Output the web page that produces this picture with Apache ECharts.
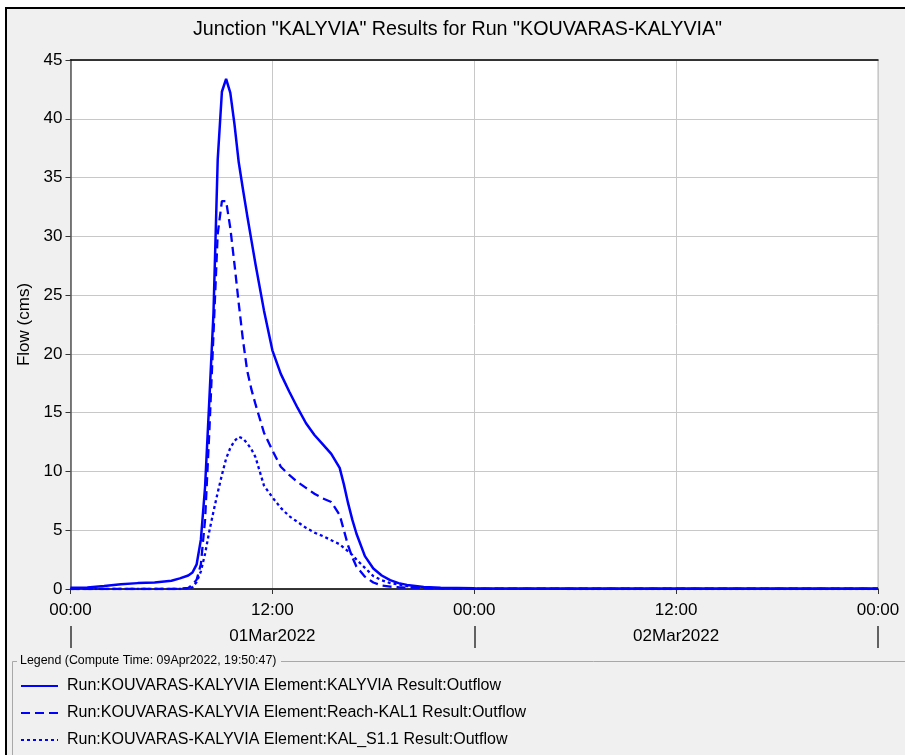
<!DOCTYPE html>
<html>
<head>
<meta charset="utf-8">
<script src="https://cdn.jsdelivr.net/npm/echarts@6/dist/echarts.min.js"></script>
<style>
  html, body { margin: 0; padding: 0; background: #fff; }
  #chart { width: 905px; height: 755px; }
</style>
</head>
<body>
<div id="chart"></div>
<script>
// Hydrograph at junction KALYVIA, hours from 01Mar2022 00:00
const hours = [0, 1, 2, 3, 4, 5, 6, 6.5, 7, 7.25, 7.5, 7.75, 8, 8.25, 8.5, 8.75, 9, 9.25, 9.5, 9.75,
  10, 10.25, 10.5, 10.75, 11, 11.5, 12, 12.5, 13, 13.5, 14, 14.5, 15, 15.5, 16, 16.25, 16.5, 16.75,
  17, 17.5, 18, 18.5, 19, 19.5, 20, 21, 22, 24, 30, 36, 42, 48];

const outflowKalyvia = [0.1, 0.12, 0.25, 0.4, 0.5, 0.55, 0.7, 0.9, 1.15, 1.4, 2.1, 4.2, 8.7, 16.0, 23.5, 36.5, 42.3, 43.4, 42.2, 39.5,
  36.3, 34.0, 31.8, 29.7, 27.6, 23.7, 20.3, 18.3, 16.8, 15.4, 14.1, 13.1, 12.3, 11.5, 10.3, 8.9, 7.3, 5.9,
  4.7, 2.8, 1.75, 1.15, 0.75, 0.5, 0.35, 0.18, 0.1, 0.06, 0.05, 0.05, 0.05, 0.05];

const outflowReachKal1 = [0, 0, 0, 0, 0, 0, 0, 0.02, 0.1, 0.35, 0.8, 2.1, 5.9, 13.3, 21.7, 30.2, 33.0, 33.0, 30.7, 27.6,
  24.3, 21.2, 18.6, 17.0, 15.7, 13.3, 11.8, 10.4, 9.7, 9.1, 8.6, 8.1, 7.7, 7.4, 6.3, 5.0, 3.7, 2.7,
  1.9, 1.05, 0.55, 0.3, 0.2, 0.15, 0.12, 0.08, 0.05, 0.03, 0.02, 0.02, 0.02, 0.02];

const outflowKalS11 = [0, 0, 0, 0, 0, 0, 0, 0, 0.05, 0.15, 0.6, 1.5, 3.0, 4.9, 6.6, 8.2, 9.7, 11.1, 12.0, 12.6,
  12.95, 12.8, 12.4, 11.9, 11.2, 8.8, 7.8, 6.9, 6.2, 5.7, 5.2, 4.8, 4.5, 4.15, 3.8, 3.5, 3.2, 2.9,
  2.5, 1.8, 1.1, 0.75, 0.5, 0.38, 0.25, 0.12, 0.06, 0.02, 0, 0, 0, 0];

const seriesNames = [
  'Run:KOUVARAS-KALYVIA Element:KALYVIA Result:Outflow',
  'Run:KOUVARAS-KALYVIA Element:Reach-KAL1 Result:Outflow',
  'Run:KOUVARAS-KALYVIA Element:KAL_S1.1 Result:Outflow'
];
const dayLabels = ['01Mar2022', '02Mar2022'];
const chartTitle = 'Junction "KALYVIA" Results for Run "KOUVARAS-KALYVIA"';
const legendCaption = 'Legend (Compute Time: 09Apr2022, 19:50:47)';

const FONT = '"Liberation Sans", Arial, sans-serif';
const BLUE = '#0000ff';
const dashStyles = ['solid', [9, 5], [3, 3]];
const lineWidths = [2.5, 2.3, 2.3];
const valueSets = [outflowKalyvia, outflowReachKal1, outflowKalS11];

const pairs = vals => hours.map((h, i) => [h, vals[i]]);

const chart = echarts.init(document.getElementById('chart'), null, { renderer: 'canvas' });

chart.setOption({
  backgroundColor: '#ffffff',
  animation: false,
  textStyle: { fontFamily: FONT },
  title: {
    text: chartTitle,
    left: 193,
    top: 20,
    padding: 0,
    textStyle: { fontFamily: FONT, fontSize: 19.7, fontWeight: 'normal', color: '#000' }
  },
  grid: [
    {
      left: 70.5, right: 27, top: 60, bottom: 166,
      show: true, backgroundColor: '#ffffff', borderColor: '#b8b8b8', borderWidth: 1
    },
    // thin strip holding the day-band axis below the time labels
    { left: 70.5, right: 27, top: 625, height: 1, show: false }
  ],
  xAxis: [
    {
      type: 'value', gridIndex: 0, min: 0, max: 48, interval: 12, position: 'bottom',
      axisLine: { show: true, onZero: false, lineStyle: { color: '#000', width: 1.5 } },
      axisTick: { show: true, length: 5, lineStyle: { color: '#333' } },
      axisLabel: {
        fontFamily: FONT, fontSize: 17, color: '#000', margin: 13,
        formatter: v => (v % 24 === 0 ? '00:00' : '12:00')
      },
      splitLine: { show: true, lineStyle: { color: '#c8c8c8', width: 1 } }
    },
    {
      type: 'category', gridIndex: 1, data: dayLabels, position: 'bottom', boundaryGap: true,
      axisLine: { show: false, onZero: false },
      axisTick: { show: true, length: 22, alignWithLabel: false, interval: 0, lineStyle: { color: '#333', width: 1.5 } },
      axisLabel: { fontFamily: FONT, fontSize: 17, color: '#000', margin: 2, interval: 0 },
      splitLine: { show: false }
    },
    {
      type: 'value', gridIndex: 0, min: 0, max: 48, position: 'top',
      axisLine: { show: true, onZero: false, lineStyle: { color: '#000', width: 1.5 } },
      axisTick: { show: false }, axisLabel: { show: false }, splitLine: { show: false }
    }
  ],
  yAxis: [
    {
      type: 'value', gridIndex: 0, min: 0, max: 45, interval: 5,
      name: 'Flow (cms)', nameLocation: 'middle', nameGap: 33,
      nameTextStyle: { fontFamily: FONT, fontSize: 17, color: '#000' },
      axisLine: { show: true, lineStyle: { color: '#555', width: 1.5 } },
      axisTick: { show: true, length: 5, lineStyle: { color: '#333' } },
      axisLabel: { fontFamily: FONT, fontSize: 17, color: '#000', margin: 8 },
      splitLine: { show: true, lineStyle: { color: '#c8c8c8', width: 1 } }
    },
    {
      type: 'value', gridIndex: 1, show: false
    }
  ],
  legend: {
    orient: 'vertical', left: 20, top: 677, padding: 0,
    itemWidth: 37, itemHeight: 18, itemGap: 9,
    itemStyle: { opacity: 0 },
    textStyle: { fontFamily: FONT, fontSize: 16, color: '#000', lineHeight: 18, padding: [0, 0, 0, 4] },
    data: seriesNames.map((n, i) => ({ name: n, lineStyle: { type: dashStyles[i], width: 2, color: BLUE } }))
  },
  series: seriesNames.map((n, i) => ({
    name: n,
    type: 'line',
    xAxisIndex: 0,
    yAxisIndex: 0,
    data: pairs(valueSets[i]),
    symbol: 'none',
    showSymbol: false,
    clip: true,
    z: 3 - i,
    lineStyle: { color: BLUE, width: lineWidths[i], type: dashStyles[i] },
    itemStyle: { color: BLUE }
  })),
  graphic: [
    {
      type: 'rect', z: -10, silent: true,
      shape: { x: 6, y: 8, width: 920, height: 770 },
      style: { fill: '#f0f0f0', stroke: '#000', lineWidth: 2 }
    },
    {
      type: 'polyline', z: 1, silent: true,
      shape: { points: [[17, 661.5], [12.5, 661.5], [12.5, 760]] },
      style: { stroke: '#a8a8a8', lineWidth: 1, fill: null }
    },
    {
      type: 'line', z: 1, silent: true,
      shape: { x1: 281, y1: 661.5, x2: 910, y2: 661.5 },
      style: { stroke: '#a8a8a8', lineWidth: 1 }
    },
    {
      type: 'text', z: 1, silent: true, left: 20, top: 655,
      style: { text: legendCaption, fontFamily: FONT, fontSize: 12.4, fill: '#000' }
    }
  ]
});
</script>
</body>
</html>
